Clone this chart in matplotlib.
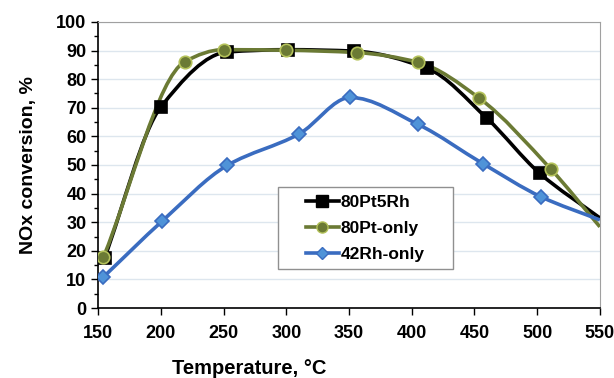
import matplotlib.pyplot as plt
import numpy as np
from matplotlib.lines import Line2D
from matplotlib.patches import PathPatch, Rectangle
from matplotlib.path import Path

plt.rcParams["font.family"] = ["Liberation Sans", "DejaVu Sans"]
plt.rcParams["font.weight"] = "bold"

# data
pt5rh_temp = [155, 200, 253, 301, 354, 412, 460, 502, 550]
pt5rh_conv = [17.5, 70.3, 89.5, 90.3, 89.8, 83.8, 66.3, 47.1, 31.5]

pt_temp = [154, 219, 250, 300, 356, 405, 454, 511, 550]
pt_conv = [17.7, 86.1, 90.3, 90.1, 89.3, 85.9, 73.3, 48.5, 28.4]

rh_temp = [154, 201, 253, 310, 351, 405, 457, 503, 550]
rh_conv = [10.8, 30.4, 49.9, 60.8, 73.6, 64.2, 50.4, 38.9, 30.8]

SERIES = [
    ("80Pt5Rh", pt5rh_temp, pt5rh_conv, "#000000", "s", "#000000", "#000000", 9),
    ("80Pt-only", pt_temp, pt_conv, "#6b7a34", "o", "#6b7a34", "#b4c25a", 9),
    ("42Rh-only", rh_temp, rh_conv, "#3a6cc0", "D", "#4f93d8", "#3a6cc0", 7),
]


def smooth_path(xs, ys):
    # smoothed line through the points, cubic bezier segments with damped slopes
    x = np.asarray(xs, float)
    y = np.asarray(ys, float)
    sec = np.diff(y) / np.diff(x)
    m = np.empty_like(x)
    m[0], m[-1] = sec[0], sec[-1]
    for i in range(1, len(x) - 1):
        a, b = sec[i - 1], sec[i]
        m[i] = 0.0 if a * b <= 0 else 2 * a * b / (a + b)
    verts = [(x[0], y[0])]
    codes = [Path.MOVETO]
    for i in range(len(x) - 1):
        h = (x[i + 1] - x[i]) / 3.0
        verts += [(x[i] + h, y[i] + m[i] * h), (x[i + 1] - h, y[i + 1] - m[i + 1] * h), (x[i + 1], y[i + 1])]
        codes += [Path.CURVE4] * 3
    return Path(verts, codes)


fig, ax = plt.subplots(figsize=(6.14, 3.78), dpi=100)
fig.subplots_adjust(left=0.16, right=0.977, top=0.942, bottom=0.185)

handles = []
for label, xs, ys, lc, mk, mfc, mec, ms in SERIES:
    patch = PathPatch(smooth_path(xs, ys), facecolor="none", edgecolor=lc, lw=2.6, zorder=3)
    ax.add_patch(patch)
    ax.plot(xs[:-1], ys[:-1], linestyle="none", marker=mk, markersize=ms,
            markerfacecolor=mfc, markeredgecolor=mec, markeredgewidth=1.2, zorder=4)
    handles.append(Line2D([], [], color=lc, lw=2.6, marker=mk, markersize=ms - 1,
                          markerfacecolor=mfc, markeredgecolor=mec, label=label))

ax.set_xlim(150, 550)
ax.set_ylim(0, 100)
ax.set_xticks(np.arange(150, 551, 50))
ax.set_yticks(np.arange(0, 101, 10))
ax.set_yticks(np.arange(5, 100, 10), minor=True)
ax.tick_params(axis="both", which="major", direction="out", length=5, labelsize=13, width=1)
ax.tick_params(axis="y", which="minor", direction="out", length=3, width=1)
ax.tick_params(axis="x", pad=7)
for lab in ax.get_xticklabels() + ax.get_yticklabels():
    lab.set_fontweight("bold")

ax.grid(axis="y", color="#dde6ee", lw=1)
ax.set_axisbelow(True)
for side in ["top", "right"]:
    ax.spines[side].set_color("#a0a0a0")
for side in ["left", "bottom"]:
    ax.spines[side].set_color("#000000")
    ax.spines[side].set_linewidth(1.2)

ax.set_ylabel("NOx conversion, %", fontsize=14, fontweight="bold", labelpad=14)
ax.set_xlabel("Temperature, °C", fontsize=14.5, fontweight="bold")
ax.xaxis.set_label_coords(0.30, -0.178)

# Excel-style legend box with wide side padding
ax.add_patch(Rectangle((0.3586, 0.136), 0.3486, 0.287, transform=ax.transAxes,
                       facecolor="white", edgecolor="#909090", lw=1, zorder=5))
leg = ax.legend(handles=handles, loc="upper left", bbox_to_anchor=(0.414, 0.395),
                fontsize=12.5, frameon=False, handlelength=1.9, handletextpad=0.1,
                borderpad=0, borderaxespad=0, labelspacing=0.62)
leg.set_zorder(6)
for t in leg.get_texts():
    t.set_fontweight("bold")

fig.savefig("out.png", dpi=100)
